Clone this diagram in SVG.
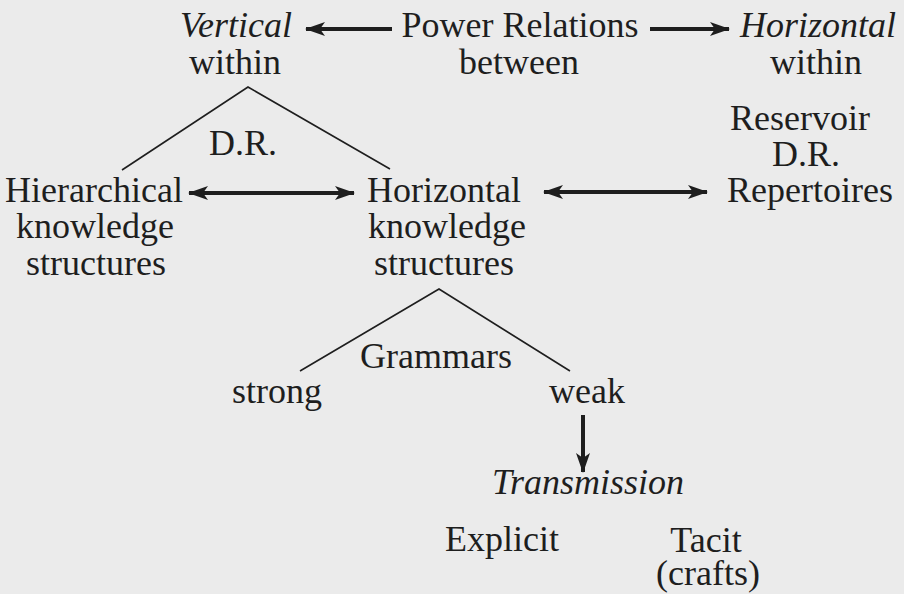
<svg xmlns="http://www.w3.org/2000/svg" width="904" height="594" viewBox="0 0 904 594">
<style>
text{font-family:"Liberation Serif","Times New Roman",serif;font-size:36px;fill:#1e1e1e;text-anchor:middle}
.it{font-style:italic}
.tree{stroke:#1e1e1e;stroke-width:1.6;fill:none}
.arr{stroke:#1e1e1e;stroke-width:4;fill:none}
</style>
<defs>
<marker id="ah" viewBox="0 0 20 14" refX="19" refY="7" markerWidth="20" markerHeight="14" markerUnits="userSpaceOnUse" orient="auto-start-reverse">
<path d="M0,0 L20,7 L0,14 L5,7 Z" fill="#1e1e1e"/>
</marker>
</defs>
<rect width="904" height="594" fill="#ebebeb"/>
<g id="connectors">
<line class="arr" x1="392" y1="29" x2="306" y2="29" marker-end="url(#ah)"/>
<line class="arr" x1="650" y1="29" x2="729" y2="29" marker-end="url(#ah)"/>
<line class="arr" x1="189" y1="193" x2="354" y2="193" marker-start="url(#ah)" marker-end="url(#ah)"/>
<line class="arr" x1="544" y1="192" x2="707" y2="192" marker-start="url(#ah)" marker-end="url(#ah)"/>
<line class="arr" x1="583" y1="415" x2="583" y2="472" marker-end="url(#ah)"/>
<polyline class="tree" points="122,170 248,87 390,169"/>
<polyline class="tree" points="300,371 439,289 570,371"/>
</g>
<g id="power"><text x="520" y="37">Power Relations</text><text x="519" y="74">between</text></g>
<g id="vertical"><text class="it" x="236" y="37">Vertical</text><text x="235" y="74">within</text></g>
<g id="horizontal-top"><text class="it" x="818" y="37">Horizontal</text><text x="816" y="74">within</text></g>
<g id="dr-left"><text x="243" y="155">D.R.</text></g>
<g id="hierarchical"><text x="94" y="202">Hierarchical</text><text x="95" y="238">knowledge</text><text x="96" y="275">structures</text></g>
<g id="horizontal-ks"><text x="444" y="202">Horizontal</text><text x="447" y="238">knowledge</text><text x="444" y="275">structures</text></g>
<g id="repertoires"><text x="800" y="130">Reservoir</text><text x="806" y="166">D.R.</text><text x="810" y="202">Repertoires</text></g>
<g id="grammars"><text x="436" y="368">Grammars</text></g>
<g id="strong"><text x="277" y="403">strong</text></g>
<g id="weak"><text x="587" y="403">weak</text></g>
<g id="transmission"><text class="it" x="588" y="494">Transmission</text></g>
<g id="explicit"><text x="502" y="551">Explicit</text></g>
<g id="tacit"><text x="706" y="552">Tacit</text><text x="708" y="585">(crafts)</text></g>
</svg>
